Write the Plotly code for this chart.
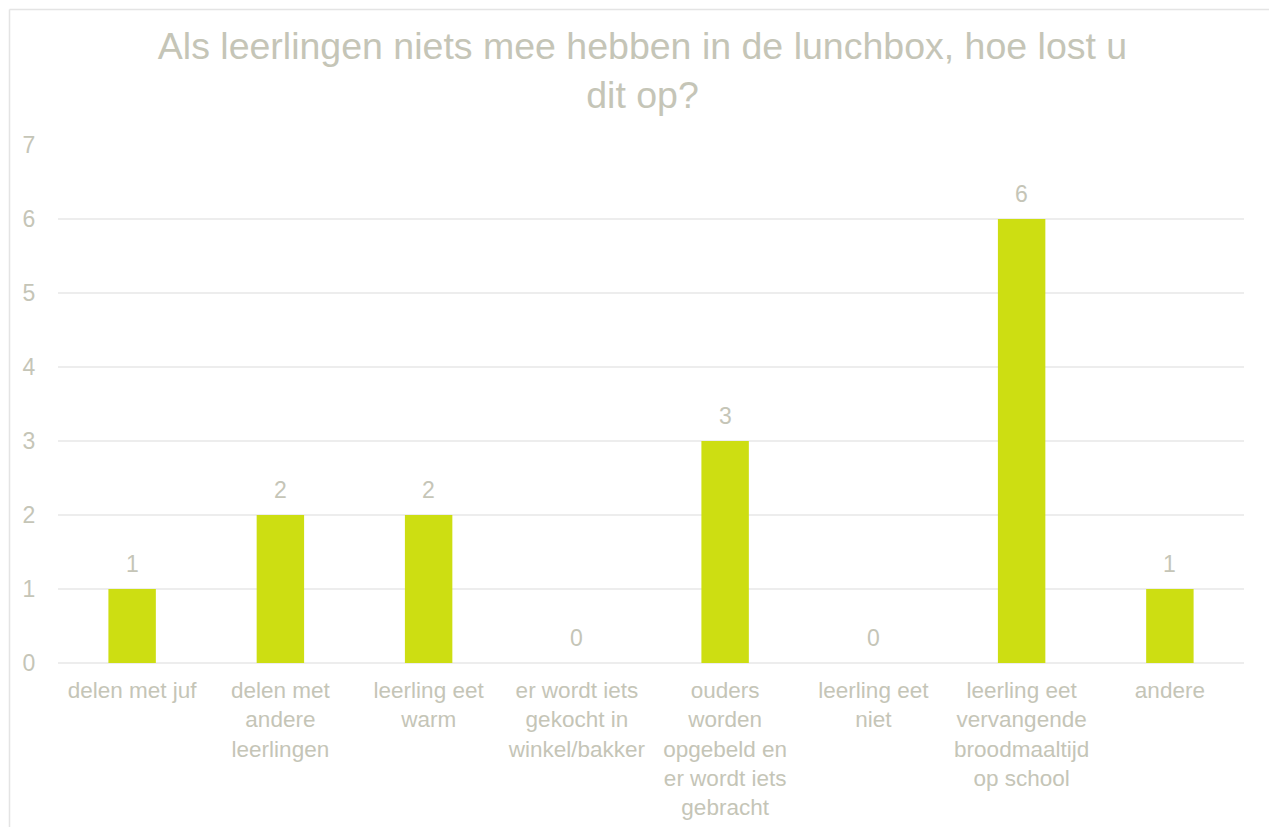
import plotly.graph_objects as go

categories = [
    "delen met juf",
    "delen met<br>andere<br>leerlingen",
    "leerling eet<br>warm",
    "er wordt iets<br>gekocht in<br>winkel/bakker",
    "ouders<br>worden<br>opgebeld en<br>er wordt iets<br>gebracht",
    "leerling eet<br>niet",
    "leerling eet<br>vervangende<br>broodmaaltijd<br>op school",
    "andere",
]
values = [1, 2, 2, 0, 3, 0, 6, 1]
title_text = "Als leerlingen niets mee hebben in de lunchbox, hoe lost u<br>dit op?"

TXT = "#C5C5B7"
BAR = "#CDDE12"
GRID = "#EDEDED"
FONT = "Liberation Sans, Arial, sans-serif"

# the page adds an 8px body margin, so the figure is drawn 8px smaller
OFF = 8
W, H = 1277 - OFF, 827 - OFF
ml, mr, mt, mb = 58 - OFF, 33, 145 - OFF, 164
pw, ph = W - ml - mr, H - mt - mb

def px_x(p):
    return (p - OFF - ml) / pw

def px_y(p):
    return (H - mb - (p - OFF)) / ph

fig = go.Figure(
    go.Bar(
        x=categories,
        y=values,
        marker=dict(color=BAR, line=dict(width=0)),
        width=0.32,
        hoverinfo="x+y",
    )
)

annotations = [
    dict(
        x=c,
        y=v,
        xref="x",
        yref="y",
        text=str(v),
        showarrow=False,
        yanchor="middle",
        yshift=25,
        font=dict(color=TXT, size=23, family=FONT),
    )
    for c, v in zip(categories, values)
]

border = dict(color="#E4E4E4", width=1.5)
fig.update_layout(
    width=W,
    height=H,
    margin=dict(l=ml, r=mr, t=mt, b=mb, autoexpand=False),
    paper_bgcolor="white",
    plot_bgcolor="white",
    font=dict(family=FONT, color=TXT, size=23),
    title=dict(
        text=title_text,
        x=0.5,
        xref="container",
        xanchor="center",
        y=1 - 51 / H,
        yref="container",
        yanchor="middle",
        font=dict(size=37.5, color=TXT, family=FONT),
    ),
    showlegend=False,
    annotations=annotations,
    xaxis=dict(
        showgrid=False,
        showline=False,
        zeroline=False,
        ticks="outside",
        ticklen=7,
        tickcolor="rgba(0,0,0,0)",
        tickfont=dict(size=22.5, color=TXT, family=FONT),
        tickangle=0,
    ),
    yaxis=dict(
        range=[0, 7],
        dtick=1,
        showgrid=True,
        gridcolor=GRID,
        gridwidth=1.5,
        zeroline=True,
        zerolinecolor=GRID,
        zerolinewidth=1.5,
        showline=False,
        ticks="outside",
        ticklen=17,
        tickcolor="rgba(0,0,0,0)",
        tickfont=dict(size=23, color=TXT, family=FONT),
    ),
    shapes=[
        dict(type="line", xref="paper", yref="paper",
             x0=px_x(9.5), x1=px_x(9.5), y0=px_y(827), y1=px_y(9.5), line=border),
        dict(type="line", xref="paper", yref="paper",
             x0=px_x(1272), x1=px_x(1272), y0=px_y(827), y1=px_y(9.5), line=border),
        dict(type="line", xref="paper", yref="paper",
             x0=px_x(9.5), x1=px_x(1272), y0=px_y(9.5), y1=px_y(9.5), line=border),
    ],
)

fig.write_html("out.html")
